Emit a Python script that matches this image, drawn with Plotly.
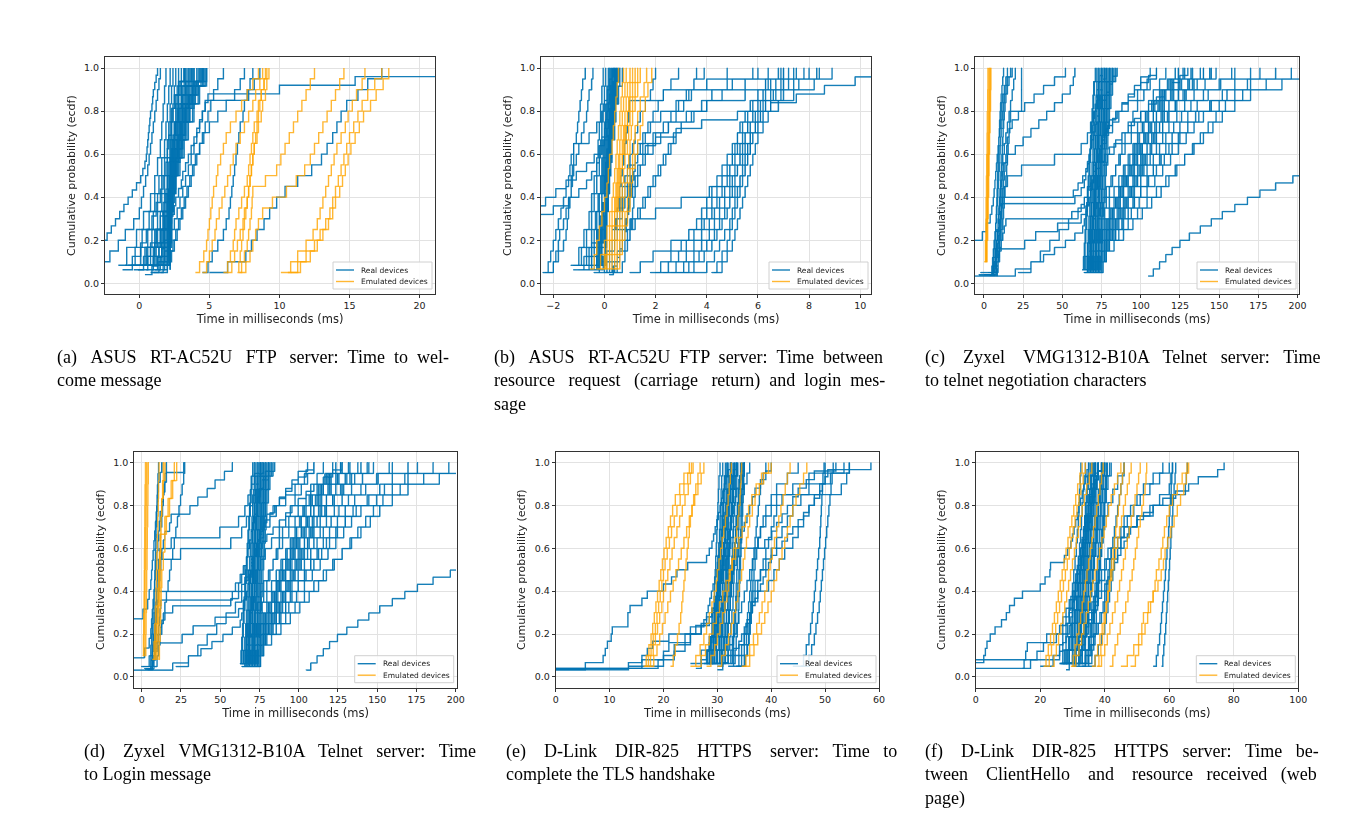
import pandas as pd
import plotly.express as px
import plotly.graph_objects as go

# ecdf de tiempos de respuesta, dispositivos reales vs emulados
# cada lista interna = muestras (ms) de un dispositivo

# ---- (a) ASUS RT-AC52U FTP: time to welcome message ----
A_REAL = [
    [-4.0, -3.8, -3.5, -3.3, -3.0, -2.8, -2.3, -2.0, -1.7, -1.4, -1.1, -0.8, -0.5, -0.2, 0.1,
     0.25, 0.4, 0.5, 0.55, 0.6, 0.65, 0.7, 0.75, 0.8, 0.9, 0.95, 1.0, 1.1, 1.2, 1.3],
    [-4.0, -3.0, -2.1, -1.5, -1.0, -0.4, 0.0, 0.15, 0.3, 0.45, 0.6, 0.7, 0.8, 0.9, 1.0,
     1.1, 1.2, 1.3, 1.4, 1.5],
    [-1.5, -0.9, -0.2, 0.3, 0.8, 1.1, 1.3, 1.5, 1.6, 1.7, 1.8, 1.9],
    [-1.0, -0.3, 0.2, 0.7, 1.1, 1.4, 1.6, 1.8, 1.9, 2.0, 2.1, 2.2],
    [-0.6, 0.1, 0.6, 1.0, 1.3, 1.6, 1.8, 2.0, 2.1, 2.2, 2.3, 2.4],
    [-0.3, 0.4, 0.9, 1.3, 1.6, 1.8, 2.0, 2.2, 2.3, 2.4, 2.5, 2.6],
    [0.0, 0.6, 1.1, 1.5, 1.8, 2.0, 2.2, 2.3, 2.5, 2.6, 2.7, 2.8],
    [0.2, 0.8, 1.3, 1.7, 1.9, 2.1, 2.2, 2.4, 2.5, 2.7, 2.8, 3.0],
    [0.4, 1.0, 1.5, 1.8, 2.0, 2.2, 2.3, 2.4, 2.6, 2.8, 3.0, 3.2],
    [0.6, 1.2, 1.6, 1.9, 2.1, 2.2, 2.3, 2.5, 2.7, 2.9, 3.1, 3.3],
    [0.8, 1.4, 1.8, 2.0, 2.2, 2.2, 2.4, 2.6, 2.8, 3.0, 3.2, 3.5],
    [1.0, 1.6, 1.9, 2.1, 2.2, 2.3, 2.5, 2.7, 2.9, 3.1, 3.4, 3.7],
    [1.2, 1.7, 2.0, 2.2, 2.2, 2.3, 2.6, 2.8, 3.0, 3.3, 3.6, 3.9],
    [1.4, 1.9, 2.1, 2.2, 2.3, 2.4, 2.6, 2.9, 3.2, 3.5, 3.8, 4.1],
    [1.6, 2.0, 2.2, 2.2, 2.3, 2.5, 2.7, 3.0, 3.3, 3.6, 4.0, 4.4],
    [1.8, 2.1, 2.2, 2.3, 2.4, 2.6, 2.8, 3.1, 3.4, 3.8, 4.2, 4.7],
    [2.0, 2.2, 2.2, 2.3, 2.4, 2.6, 2.9, 3.2, 3.5, 3.9, 4.3, 4.8],
    [2.1, 2.2, 2.2, 2.2, 2.3, 2.4, 2.6, 2.8, 3.0, 3.2, 3.5, 3.9],
    [2.2, 2.2, 2.2, 2.2, 2.3, 2.4, 2.5, 2.7, 2.9, 3.1, 3.3, 3.6],
    [2.2, 2.2, 2.3, 2.3, 2.4, 2.5, 2.6, 2.8, 3.0, 3.3, 3.7, 4.2],
    [-0.8, 0.5, 1.2, 1.7, 2.0, 2.2, 2.4, 2.7, 3.0, 3.3, 3.8, 4.5],
    [0.3, 1.1, 1.7, 2.1, 2.2, 2.3, 2.5, 2.8, 3.1, 3.4, 3.9, 4.6],
    [-1.2, -0.5, 0.1, 0.5, 0.9, 1.2, 1.5, 1.7, 1.9, 2.0, 2.1, 2.2, 2.3, 2.5, 2.8, 3.2],
    [-0.4, 0.3, 0.8, 1.2, 1.5, 1.7, 1.9, 2.0, 2.1, 2.2, 2.2, 2.3, 2.4, 2.6, 2.9, 3.4],
    [0.5, 1.0, 1.4, 1.7, 1.9, 2.0, 2.1, 2.2, 2.2, 2.3, 2.4, 2.6, 2.8, 3.0, 3.3, 3.8],
    [1.1, 1.5, 1.8, 2.0, 2.1, 2.2, 2.2, 2.3, 2.4, 2.5, 2.7, 2.9, 3.1, 3.4, 3.8, 4.3],
    [1.7, 2.0, 2.1, 2.2, 2.2, 2.2, 2.3, 2.4, 2.5, 2.7, 2.9, 3.1, 3.3, 3.6, 4.0, 4.6],
    [2.2, 2.2, 2.2, 2.2, 2.2, 2.3, 2.3, 2.4, 2.5, 2.6, 2.8, 3.0, 3.2, 3.5, 3.9, 4.4],
    [2.2, 2.2, 2.2, 2.3, 2.3, 2.4, 2.5, 2.6, 2.7, 2.9, 3.1, 3.3, 3.6, 3.9, 4.2, 4.5],
    [-0.1, 0.6, 1.1, 1.5, 1.8, 2.0, 2.1, 2.2, 2.3, 2.4, 2.5, 2.7, 2.9, 3.1, 3.4, 3.7],
    [0.9, 1.3, 1.6, 1.8, 2.0, 2.1, 2.2, 2.2, 2.3, 2.4, 2.5, 2.6, 2.7, 2.8, 3.0, 3.2],
    [1.4, 1.8, 2.0, 2.1, 2.2, 2.2, 2.3, 2.4, 2.6, 2.8, 3.0, 3.2, 3.4, 3.7, 4.1, 4.8],
    [0.4, 0.9, 1.3, 1.6, 1.8, 2.0, 2.2, 2.3, 2.5, 2.6, 2.8, 3.0, 3.1, 3.3, 3.5, 3.7, 3.9,
     4.1, 4.3, 4.5, 4.7, 4.9, 10.0, 15.4, 30.0],
    [0.8, 1.4, 1.8, 2.1, 2.3, 2.5, 2.7, 2.9, 3.1, 3.3, 3.5, 3.7, 3.9, 4.1, 4.3, 4.5, 4.7,
     7.8, 8.2, 8.6],
    [1.0, 1.7, 2.1, 2.4, 2.6, 2.8, 3.0, 3.2, 3.4, 3.6, 3.8, 4.0, 4.3, 4.6, 5.0, 5.6, 6.2,
     6.8, 7.2, 7.5],
    [1.5, 2.0, 2.3, 2.5, 2.7, 2.9, 3.1, 3.3, 3.5, 3.7, 3.9, 4.1, 4.3, 4.5, 4.7, 4.9, 5.1,
     5.3, 5.6, 6.0],
    [4.5, 4.9, 5.2, 5.6, 6.0, 6.2, 6.4, 6.5, 6.6, 6.7, 6.8, 6.9, 7.0, 7.1, 7.2, 7.4, 7.5,
     7.7, 7.9, 8.1],
    [5.0, 6.3, 7.6, 8.0, 8.4, 8.9, 9.3, 9.8, 10.4, 11.3, 12.3, 13.0, 13.4, 13.8, 14.1, 14.4,
     14.8, 15.6, 16.3, 17.3],
]
A_EMU = [
    [4.0, 4.3, 4.6, 4.8, 4.9, 5.0, 5.1, 5.2, 5.3, 5.5, 5.6, 5.8, 6.0, 6.2, 6.5, 6.9, 7.3, 7.7, 8.1, 8.5],
    [4.5, 4.8, 5.0, 5.2, 5.4, 5.5, 5.7, 5.9, 6.1, 6.3, 6.5, 6.7, 6.9, 7.2, 7.5, 7.8, 8.1, 8.3, 8.6, 8.8],
    [6.0, 6.3, 6.5, 6.7, 6.8, 6.9, 7.1, 7.3, 7.5, 7.7, 7.8, 7.9, 8.0, 8.1, 8.2, 8.4, 8.5, 8.7, 8.9, 9.0],
    [6.3, 6.6, 6.8, 7.0, 7.2, 7.4, 7.5, 7.7, 7.8, 7.9, 8.0, 8.1, 8.2, 8.4, 8.5, 8.7, 8.8, 9.0, 9.1, 9.25],
    [7.0, 7.1, 7.2, 7.3, 7.4, 7.5, 7.6, 7.7, 7.8, 7.9, 8.0, 8.1, 8.2, 8.3, 8.4, 8.5, 8.6, 8.7, 8.9, 9.1],
    [7.1, 7.3, 7.5, 7.7, 7.8, 7.9, 8.0, 8.05, 8.1, 9.0, 9.8, 10.1, 10.4, 10.7, 11.0, 11.3, 11.6, 11.9, 12.2, 12.5],
    [7.2, 7.6, 7.9, 8.1, 8.3, 8.5, 8.8, 9.5, 10.5, 11.2, 11.8, 12.2, 12.5, 12.8, 13.1, 13.4, 13.7, 14.0, 14.3, 14.6],
    [10.1, 10.8, 11.3, 11.9, 12.4, 12.7, 12.9, 13.1, 13.3, 13.5, 13.7, 13.9, 14.1, 14.4, 14.7, 14.9, 15.2, 15.5, 15.9, 16.1],
    [10.8, 11.5, 12.2, 12.7, 13.1, 13.5, 13.8, 14.0, 14.3, 14.5, 14.7, 14.9, 15.1, 15.4, 15.7, 16.0, 16.5, 16.9, 17.4, 17.8],
    [10.6, 11.3, 11.9, 12.5, 12.9, 13.3, 13.6, 13.8, 14.0, 14.2, 14.4, 14.6, 14.8, 15.0, 15.3, 15.6, 15.9, 16.3, 16.8, 17.3],
]

# ---- (b) ASUS RT-AC52U FTP: resource request -> login message ----
B_REAL = [
    [-2.4, -2.2, -2.1, -2.0, -1.9, -1.8, -1.7, -1.6, -1.5, -1.4, -1.35, -1.3, -1.2, -1.1, -1.05, -1.0, -0.95, -0.9, -0.85, -0.75],
    [-2.2, -2.0, -1.9, -1.8, -1.75, -1.6, -1.5, -1.4, -1.3, -1.25, -1.2, -1.1, -1.0, -0.9, -0.8, -0.7, -0.65, -0.6, -0.5, -0.45],
    [-4.0, -3.8, -3.6, -3.4, -3.2, -3.0, -2.9, -2.8, -2.6, -2.3, -1.9, -1.5, -1.1, -0.7, -0.4, -0.2, -0.1, 0.0, 0.05, 0.1,
     0.15, 0.2, 0.25, 0.3, 0.35],
    [-4.0, -3.8, -3.6, -3.4, -3.2, -3.0, -2.8, -2.6, -2.0, -1.4, -1.0, -0.7, -0.5, -0.3, -0.2, -0.1, 0.0, 0.1, 0.15, 0.2,
     0.3, 0.4, 0.45, 0.5, 0.55],
    [-2.3, -2.0, -1.8, -1.6, -1.5, -1.45, -1.4, -1.35, -1.3, -1.3, -1.25, -1.2, -1.2, -0.6, -0.3, -0.1, 0.0, 0.1, 0.2, 0.3],
    [-1.3, -1.0, -0.8, -0.6, -0.5, -0.4, -0.3, -0.25, -0.2, -0.15, -0.1, -0.05],
    [-1.2, -0.9, -0.7, -0.5, -0.4, -0.3, -0.2, -0.15, -0.1, -0.05, 0.0, 0.05],
    [-1.0, -0.7, -0.5, -0.35, -0.25, -0.15, -0.1, -0.05, 0.0, 0.05, 0.1, 0.15],
    [-0.9, -0.6, -0.4, -0.3, -0.2, -0.1, -0.05, 0.0, 0.05, 0.1, 0.15, 0.2],
    [-0.8, -0.5, -0.3, -0.2, -0.1, 0.0, 0.05, 0.1, 0.15, 0.2, 0.25, 0.3],
    [-0.7, -0.4, -0.2, -0.1, 0.0, 0.05, 0.1, 0.15, 0.2, 0.25, 0.3, 0.35],
    [-0.6, -0.3, -0.15, -0.05, 0.0, 0.1, 0.15, 0.2, 0.25, 0.3, 0.35, 0.4],
    [-0.5, -0.2, -0.1, 0.0, 0.05, 0.1, 0.2, 0.25, 0.3, 0.35, 0.4, 0.45],
    [-0.4, -0.15, 0.0, 0.05, 0.1, 0.15, 0.2, 0.25, 0.3, 0.35, 0.45, 0.5],
    [-0.3, -0.1, 0.0, 0.1, 0.15, 0.2, 0.25, 0.3, 0.35, 0.4, 0.5, 0.6],
    [-0.2, 0.0, 0.05, 0.1, 0.15, 0.2, 0.25, 0.3, 0.4, 0.45, 0.55, 0.7],
    [-0.1, 0.0, 0.05, 0.1, 0.15, 0.2, 0.2, 0.25, 0.3, 0.35, 0.4, 0.45],
    [-1.1, -0.6, -0.3, -0.2, -0.1, -0.05, 0.0, 0.05, 0.1, 0.15, 0.2, 0.25],
    [0.0, 0.05, 0.1, 0.1, 0.15, 0.2, 0.2, 0.25, 0.3, 0.3, 0.35, 0.4],
    [-0.8, -0.2, 0.0, 0.1, 0.1, 0.15, 0.2, 0.2, 0.25, 0.3, 0.35, 0.4],
    [-0.5, -0.1, 0.05, 0.1, 0.15, 0.2, 0.25, 0.25, 0.3, 0.35, 0.4, 0.5],
    [-1.2, -0.8, -0.5, -0.3, -0.2, -0.1, 0.0, 0.05, 0.1, 0.15, 0.2, 0.25, 0.3, 0.35, 0.4, 0.5],
    [-0.9, -0.6, -0.4, -0.25, -0.15, -0.05, 0.0, 0.05, 0.1, 0.1, 0.15, 0.2, 0.25, 0.3, 0.35, 0.45],
    [-0.6, -0.4, -0.25, -0.15, -0.1, -0.05, 0.0, 0.0, 0.05, 0.1, 0.15, 0.2, 0.2, 0.25, 0.3, 0.4],
    [-0.3, -0.2, -0.1, -0.05, 0.0, 0.05, 0.1, 0.1, 0.15, 0.2, 0.2, 0.25, 0.3, 0.35, 0.4, 0.55],
    [-1.0, -0.5, -0.2, -0.1, 0.0, 0.05, 0.1, 0.15, 0.2, 0.2, 0.25, 0.3, 0.3, 0.35, 0.4, 0.45],
    [-0.7, -0.3, -0.1, 0.0, 0.05, 0.1, 0.15, 0.2, 0.25, 0.3, 0.3, 0.35, 0.4, 0.45, 0.5, 0.6],
    [-0.15, -0.05, 0.0, 0.05, 0.1, 0.1, 0.15, 0.15, 0.2, 0.2, 0.25, 0.25, 0.3, 0.3, 0.35, 0.4],
    [-0.45, -0.25, -0.1, 0.0, 0.05, 0.1, 0.1, 0.15, 0.2, 0.25, 0.25, 0.3, 0.35, 0.4, 0.45, 0.5],
    [-0.2, 0.0, 0.1, 0.2, 0.3, 0.4, 0.5, 0.6, 0.7, 0.8, 0.9, 1.0, 1.1, 1.2, 1.3, 1.4, 1.6, 1.8, 1.9, 2.0],
    [0.0, 0.2, 0.3, 0.4, 0.5, 0.6, 0.7, 0.8, 0.9, 1.0, 1.1, 1.2, 1.3, 1.5, 1.7, 1.9, 2.1, 2.3, 2.6, 2.9],
    [0.1, 0.3, 0.5, 0.6, 0.7, 0.8, 0.9, 1.0, 1.1, 1.2, 1.3, 1.5, 1.7, 2.0, 2.3, 2.6, 2.9, 3.2, 3.5, 3.9],
    [0.2, 0.35, 0.5, 0.6, 0.7, 0.8, 0.85, 0.9, 0.95, 1.0, 1.05, 1.1, 1.15, 1.2, 1.3, 1.6, 2.0, 2.8, 3.8, 5.2,
     6.5, 7.5, 8.6, 9.8, 11.5],
    [0.0, 0.1, 0.2, 0.3, 0.4, 0.45, 0.5, 0.55, 0.6, 0.65, 0.7, 0.75, 0.8, 0.85, 0.9, 0.95, 0.98, 2.3, 4.8, 7.0],
    [0.3, 0.5, 0.6, 0.7, 0.8, 0.85, 0.9, 0.95, 1.0, 1.05, 1.1, 1.2, 1.5, 1.9, 2.5, 3.2, 4.0, 4.6, 5.5, 6.0],
    [0.5, 0.7, 0.8, 0.9, 1.0, 1.05, 1.1, 1.15, 1.2, 1.3, 1.4, 1.6, 1.9, 2.2, 2.5, 2.8, 3.1, 3.3, 3.5, 3.6],
    [0.0, 0.1, 0.2, 0.3, 0.4, 0.5, 0.6, 0.7, 0.8, 0.9, 1.0, 1.2, 1.4, 1.6, 1.8, 2.2, 2.8, 3.4, 4.0, 4.8],
    [0.2, 0.4, 0.6, 0.8, 1.0, 1.2, 1.4, 1.6, 1.8, 2.0, 2.2, 2.4, 2.6, 2.8, 3.0, 3.5, 4.0, 5.5, 7.0, 8.4],
    [0.1, 0.3, 0.5, 0.7, 0.9, 1.1, 1.3, 1.5, 1.7, 1.9, 2.1, 2.3, 2.5, 2.7, 3.0, 3.4, 3.8, 4.2, 5.0, 5.8],
    [-0.4, -0.2, 0.0, 0.2, 0.5, 1.0, 2.0, 3.0, 4.1, 4.6, 4.9, 5.1, 5.3, 5.5, 5.7, 5.9, 6.2, 6.5, 6.9, 7.4],
    [1.0, 1.4, 1.9, 2.6, 3.3, 3.9, 4.2, 4.4, 4.6, 4.8, 4.9, 5.0, 5.1, 5.2, 5.3, 5.5, 5.7, 6.0, 6.4, 7.0],
    [1.8, 2.2, 2.6, 3.0, 3.3, 3.6, 3.8, 4.0, 4.2, 4.4, 4.6, 4.8, 5.0, 5.2, 5.4, 5.6, 5.8, 6.0, 6.3, 6.8],
    [2.0, 2.5, 2.9, 3.2, 3.5, 3.8, 4.0, 4.2, 4.4, 4.6, 4.8, 5.0, 5.2, 5.4, 5.6, 5.8, 6.0, 6.3, 6.7, 7.2],
    [2.3, 2.8, 3.2, 3.5, 3.8, 4.1, 4.3, 4.5, 4.7, 4.9, 5.1, 5.3, 5.5, 5.7, 5.9, 6.1, 6.3, 6.7, 7.2, 7.8],
    [2.6, 3.1, 3.5, 3.8, 4.1, 4.3, 4.5, 4.7, 4.9, 5.0, 5.2, 5.4, 5.6, 5.8, 6.0, 6.2, 6.5, 6.9, 7.4, 8.0],
    [3.0, 3.5, 3.9, 4.2, 4.4, 4.6, 4.8, 4.9, 5.0, 5.1, 5.2, 5.3, 5.4, 5.5, 5.6, 5.8, 6.0, 6.2, 6.5, 6.9],
    [3.5, 4.0, 4.3, 4.5, 4.7, 4.9, 5.0, 5.1, 5.2, 5.3, 5.4, 5.5, 5.6, 5.7, 5.9, 6.1, 6.3, 6.6, 7.0, 7.5],
    [4.2, 4.4, 4.6, 4.8, 4.9, 5.0, 5.1, 5.2, 5.3, 5.4, 5.5, 5.6, 5.7, 5.8, 6.0, 6.2, 6.5, 7.0, 7.6, 8.3],
    [4.3, 4.6, 4.8, 5.0, 5.1, 5.2, 5.3, 5.4, 5.5, 5.6, 5.7, 5.8, 5.9, 6.0, 6.2, 6.4, 6.8, 7.4, 8.2, 8.9],
    [2.8, 3.3, 3.7, 4.0, 4.3, 4.5, 4.7, 4.9, 5.1, 5.3, 5.5, 5.6, 5.7, 5.8, 5.9, 6.0, 6.1, 6.2, 6.3, 6.4],
]
B_EMU = [
    [-0.55, -0.4, -0.3, -0.2, -0.1, 0.0, 0.1, 0.15, 0.2, 0.3, 0.35, 0.4, 0.45, 0.5, 0.55],
    [-0.3, -0.15, 0.0, 0.1, 0.2, 0.3, 0.35, 0.4, 0.45, 0.5, 0.55, 0.6, 0.65, 0.7, 0.75],
    [-0.2, 0.0, 0.1, 0.2, 0.3, 0.4, 0.45, 0.5, 0.55, 0.6, 0.65, 0.7, 0.75, 0.8, 0.85],
    [0.0, 0.1, 0.2, 0.3, 0.4, 0.45, 0.5, 0.55, 0.6, 0.7, 0.75, 0.8, 0.85, 0.9, 1.0],
    [0.1, 0.2, 0.3, 0.4, 0.5, 0.55, 0.6, 0.65, 0.7, 0.8, 0.85, 0.9, 1.0, 1.1, 1.2],
    [0.2, 0.3, 0.4, 0.5, 0.6, 0.65, 0.7, 0.75, 0.8, 0.9, 0.95, 1.0, 1.1, 1.2, 1.3],
    [0.3, 0.4, 0.5, 0.6, 0.7, 0.75, 0.8, 0.9, 0.95, 1.0, 1.05, 1.1, 1.2, 1.3, 1.4],
    [0.4, 0.5, 0.6, 0.7, 0.8, 0.9, 0.95, 1.0, 1.1, 1.15, 1.2, 1.3, 1.4, 1.55, 1.65],
    [0.45, 0.6, 0.7, 0.8, 0.9, 1.0, 1.05, 1.1, 1.2, 1.3, 1.4, 1.5, 1.6, 1.7, 1.85],
    [-0.1, 0.05, 0.2, 0.3, 0.4, 0.5, 0.55, 0.6, 0.7, 0.75, 0.8, 0.9, 0.95, 1.0, 1.1],
]

# ---- (c)/(d) Zyxel VMG1312-B10A Telnet: curves that look the same in both panels ----
ZYXEL_BAND = [
    [63, 64, 64.5, 65, 65.5, 66, 66.5, 67, 67.5, 68, 68.5, 69, 69.5, 70, 70.5, 71],
    [64, 65, 66, 66.5, 67, 67.5, 68, 68.5, 69, 69.5, 70, 70.5, 71, 71.5, 72, 73],
    [65, 66, 67, 67.5, 68, 68.5, 69, 69.5, 70, 70.5, 71, 71.5, 72, 72.5, 73, 74],
    [66, 67, 68, 68.5, 69, 69.5, 70, 70.5, 71, 71.5, 72, 72.5, 73, 73.5, 74, 75],
    [67, 68, 68.5, 69, 69.5, 70, 70.5, 71, 71.5, 72, 72.5, 73, 73.5, 74, 75, 76],
    [68, 68.5, 69, 69.5, 70, 70.5, 71, 71.5, 72, 72.5, 73, 73.5, 74, 75, 76, 78],
    [69, 69.5, 70, 70.5, 71, 71.5, 72, 72.5, 73, 73.5, 74, 74.5, 75, 76, 77, 80],
    [70, 70.5, 71, 71.5, 72, 72.5, 73, 73.5, 74, 74.5, 75, 75.5, 76, 77, 78, 81],
    [71, 71.5, 72, 72.5, 73, 73.5, 74, 74.5, 75, 75.5, 76, 76.5, 77, 78, 79, 80],
    [72, 72.5, 73, 73.5, 74, 74.5, 75, 75.5, 76, 76.5, 77, 77.5, 78, 79, 80, 82],
    [73, 73.5, 74, 74.5, 75, 75.5, 76, 76.5, 77, 77.5, 78, 78.5, 79, 80, 81, 83],
    [65, 67, 68, 69, 69.5, 70, 70.5, 71, 71.5, 72, 72.5, 73, 74, 75, 76, 77],
    [68, 69, 70, 70.5, 71, 71.5, 72, 72.5, 73, 73.5, 74, 74.5, 75, 75.5, 76, 77],
    [74, 74.5, 75, 75.5, 76, 76.5, 77, 77.5, 78, 78.5, 79, 79.5, 80, 81, 82, 84],
    [64, 66, 67, 68, 69, 70, 71, 72, 73, 74, 75, 76, 77, 78, 79, 80],
    [63, 63.5, 64, 64.5, 65, 65.5, 66, 66.5, 67, 67.5, 68, 68.5, 69, 69.5, 70, 72],
    [66, 66.5, 67, 67.5, 68, 68.5, 69, 69.5, 70, 70.5, 71, 71.5, 72, 73, 74, 76],
    [69, 69.5, 70, 70.5, 71, 71.5, 72, 72.5, 73, 73.5, 74, 74.5, 75, 75.5, 76, 77],
    [72, 72.5, 73, 73.5, 74, 74.5, 75, 75.5, 76, 76.5, 77, 78, 79, 80, 81, 82],
    [67, 67.5, 68, 69, 70, 71, 72, 73, 74, 75, 76, 77, 78, 79, 80, 81],
    [70, 71, 71.5, 72, 72.5, 73, 73.5, 74, 74.5, 75, 75.5, 76, 76.5, 77, 78, 79],
    [64, 65, 66, 67, 68, 68.5, 69, 69.5, 70, 70.5, 71, 71.5, 72, 72.5, 73, 75],
    [68, 68.5, 69, 69.5, 70, 70.5, 71, 71.5, 72, 72.5, 73, 73.5, 74, 74.5, 75, 76],
]
ZYXEL_FAN = [
    [64, 66, 68, 70, 72, 74, 76, 78, 80, 82, 84, 86, 88, 90, 92, 95, 98, 102, 106, 110],
    [65, 67, 69, 71, 73, 75, 77, 80, 83, 86, 89, 92, 95, 98, 101, 104, 108, 112, 117, 122],
    [66, 68, 70, 72, 74, 77, 80, 83, 86, 89, 92, 95, 98, 102, 106, 110, 115, 120, 126, 132],
    [67, 69, 71, 73, 76, 79, 82, 85, 88, 92, 96, 100, 104, 108, 112, 117, 122, 128, 134, 140],
    [68, 70, 72, 75, 78, 82, 86, 90, 94, 98, 102, 106, 110, 114, 118, 123, 128, 134, 141, 148],
    [69, 71, 73, 76, 80, 84, 88, 92, 96, 100, 104, 108, 112, 116, 121, 126, 132, 140, 150, 160],
    [70, 72, 74, 77, 80, 83, 86, 89, 92, 95, 98, 101, 104, 107, 110, 114, 118, 124, 130, 138],
    [71, 72, 73, 75, 77, 79, 81, 84, 87, 90, 93, 96, 99, 102, 105, 108, 112, 116, 121, 127],
    [72, 73, 74, 76, 78, 80, 83, 86, 89, 92, 95, 98, 101, 105, 109, 113, 118, 124, 131, 145],
    [66, 70, 74, 78, 82, 86, 90, 95, 100, 105, 110, 115, 120, 125, 130, 135, 145, 155, 170, 186],
    [70, 73, 76, 79, 82, 85, 88, 91, 94, 97, 100, 103, 106, 109, 112, 115, 118, 121, 124, 127],
    [73, 75, 77, 79, 81, 83, 85, 87, 89, 91, 93, 95, 97, 99, 101, 103, 105, 108, 112, 116],
    [68, 71, 75, 80, 86, 92, 98, 104, 110, 116, 122, 128, 134, 140, 146, 152, 160, 170, 180, 196],
    [64, 69, 74, 79, 84, 89, 94, 99, 104, 109, 114, 119, 124, 129, 134, 140, 150, 165, 190, 230],
    [75, 76, 77, 78, 79, 80, 82, 84, 86, 88, 90, 93, 96, 99, 102, 105, 109, 113, 118, 124],
    [67, 68, 69, 70, 71, 72, 74, 76, 78, 81, 84, 87, 90, 94, 98, 103, 108, 114, 120, 128],
    [65, 66, 67, 68, 69, 70, 71, 72, 73, 74, 76, 79, 83, 88, 94, 100, 107, 115, 125, 140],
    [71, 74, 78, 83, 89, 95, 101, 107, 113, 118, 123, 128, 133, 138, 143, 148, 154, 160, 168, 176],
    [68, 70, 72, 74, 76, 79, 82, 85, 88, 91, 94, 97, 100, 103, 106, 110, 114, 119, 125, 133],
    [70, 72, 75, 78, 81, 84, 87, 90, 93, 96, 99, 102, 106, 110, 114, 118, 123, 129, 136, 144],
    [72, 74, 77, 80, 84, 88, 92, 96, 100, 104, 108, 112, 116, 120, 125, 130, 136, 143, 151, 158],
    [66, 68, 70, 72, 75, 78, 81, 84, 87, 90, 93, 96, 99, 102, 105, 108, 111, 115, 119, 124],
    [74, 76, 78, 80, 83, 86, 89, 92, 95, 98, 101, 104, 107, 110, 114, 118, 122, 127, 133, 140],
    [69, 72, 76, 80, 84, 88, 92, 96, 100, 104, 108, 113, 118, 124, 130, 137, 144, 152, 160, 170],
    [71, 73, 75, 77, 79, 81, 83, 86, 89, 92, 95, 98, 101, 104, 107, 110, 113, 116, 120, 124],
]
ZYXEL_LOW = [
    [-10, 20, 30, 38, 45, 52, 58, 63, 64, 65, 66, 67, 68, 69, 70, 71, 72, 73, 74, 75, 77, 79,
     82, 85, 88, 92, 96, 100, 105, 110],
    [5, 8, 9, 10, 26, 33, 47, 62, 65, 67, 68, 69, 70, 71, 72, 74, 76, 78, 80, 84, 88, 92, 96, 100, 106],
    [22, 30, 36, 42, 48, 54, 60, 64, 66, 68, 70, 72, 75, 78, 82, 86, 92, 98, 104, 110],
    [105, 108, 112, 116, 120, 125, 131, 138, 145, 152, 160, 168, 176, 186, 197,
     205, 210, 215, 220, 225, 230, 235, 240, 250, 260, 270, 280, 290, 300, 320],
]
C_REAL = [
    [0.5, 5.5, 6.0, 6.5, 7.0, 7.3, 7.6, 7.8, 8.0, 8.2, 8.4, 8.6, 8.8, 9.0, 9.2, 9.4, 9.6, 9.8, 10.0,
     10.3, 10.6, 11.0, 11.5, 12.0, 12.5],
    [2.0, 6.0, 7.0, 7.5, 8.0, 8.5, 9.0, 9.3, 9.6, 9.9, 10.2, 10.5, 10.8, 11.1, 11.4, 11.7, 12.0, 12.3,
     12.6, 13.0, 13.5, 14.0, 15.0, 16.0, 17.0],
    [-3.0, 5.0, 5.5, 6.0, 6.5, 7.0, 7.5, 8.0, 8.3, 8.6, 8.9, 9.2, 9.5, 9.8, 10.1, 10.4, 10.7, 11.0,
     11.5, 12.0, 12.5, 13.0, 14.0, 15.0, 18.0],
    [8.0, 8.5, 9.0, 9.3, 9.6, 9.9, 10.2, 10.5, 10.8, 11.1, 11.4, 11.7, 57.0, 60.0, 63.0, 65.0, 66.0,
     67.0, 68.0, 68.5, 69.0, 69.5, 70.0, 70.5, 71.0, 71.5, 72.0, 73.0, 74.0, 76.0],
    [6.0, 7.0, 7.5, 8.0, 8.5, 9.0, 9.5, 10.0, 10.5, 11.0, 58.0, 62.0, 64.0, 65.0, 66.0, 67.0, 68.0,
     69.0, 70.0, 71.0, 72.0, 74.0, 76.0, 78.0, 80.0, 82.0, 85.0],
    [4.0, 7.0, 8.0, 9.0, 10.0, 11.0, 12.0, 13.0, 14.0, 56.0, 62.0, 64.0, 66.0, 68.0, 70.0, 72.0, 74.0,
     77.0, 80.0, 84.0, 88.0, 92.0, 96.0, 100.0, 105.0, 110.0, 115.0, 120.0, 125.0, 130.0],
    [3.0, 8.0, 9.0, 10.0, 10.5, 11.0, 11.5, 12.0, 13.0, 15.0, 24.0, 45.0, 62.0, 66.0, 68.0, 70.0,
     72.0, 74.0, 76.0, 78.0],
    [1.0, 6.0, 7.0, 7.5, 8.0, 8.5, 9.0, 9.5, 10.0, 10.5, 11.0, 11.5, 12.0, 12.5, 15.0, 20.0, 25.0,
     30.0, 35.0, 40.0, 45.0, 50.0, 55.0, 57.0, 58.0],
    [2.0, 7.0, 8.0, 8.5, 9.0, 9.5, 10.0, 10.5, 11.0, 11.5, 12.0, 12.5, 13.0, 13.5, 14.0, 14.5, 15.0,
     16.0, 18.0, 22.0, 26.0, 32.0, 38.0, 45.0, 52.0],
    [-2.0, 6.5, 7.5, 8.0, 8.5, 9.0, 9.5, 10.0, 10.5, 11.0, 11.5, 12.0, 13.0, 14.0, 15.0, 16.0, 17.0,
     18.0, 19.0, 20.0],
    [3.0, 9.0, 10.0, 11.0, 11.5, 12.0, 12.5, 13.0, 13.5, 14.0, 14.5, 15.0, 15.5, 16.0, 16.5, 17.0,
     24.0, 24.0, 24.0, 24.0],
    [-20.0, -18.0, -15.0, -12.0, -9.0, -1.0, 1.5, 4.0, 5.0, 6.0, 6.5, 7.0, 7.5, 8.0, 8.5, 9.0, 9.5,
     10.0, 10.5, 11.0, 11.5, 12.0, 13.0, 14.0, 15.0],
]
C_EMU = [
    [0.5, 1.0, 1.2, 1.4, 1.6, 1.8, 2.0, 2.2, 2.4, 2.6],
    [1.0, 1.4, 1.7, 2.0, 2.2, 2.4, 2.7, 3.0, 3.2, 3.5],
    [1.5, 2.0, 2.4, 2.7, 3.0, 3.3, 3.6, 3.9, 4.2, 4.5],
    [1.2, 1.6, 2.0, 2.3, 2.6, 2.9, 3.2, 3.5, 3.8, 4.0],
]
D_REAL = [
    [-20.0, -18.0, -15.0, -12.0, -9.0, -7.0, 1.0, 4.0, 5.0, 6.0, 6.5, 7.0, 7.5, 8.0, 8.5, 9.0, 9.5,
     10.0, 10.5, 11.0, 12.0, 13.0],
    [-10.0, -8.0, 2.0, 5.0, 6.0, 6.5, 7.0, 7.5, 8.0, 8.5, 9.0, 9.5, 10.0, 10.5, 11.0, 11.5, 12.0,
     13.0, 14.0, 15.0, 16.0, 27.0],
    [3.0, 6.0, 7.0, 7.5, 8.0, 8.5, 9.0, 9.5, 10.0, 10.5, 60.0, 63.0, 65.0, 67.0, 68.0, 69.0, 70.0,
     71.0, 72.0, 73.0, 74.0, 75.0, 77.0, 79.0, 82.0],
    [5.0, 7.0, 8.0, 9.0, 10.0, 11.0, 11.5, 12.0, 12.5, 58.0, 62.0, 64.0, 66.0, 67.0, 68.0, 69.0, 70.0,
     71.0, 72.0, 73.0, 74.0, 76.0, 78.0, 81.0, 85.0],
    [4.0, 7.0, 8.0, 9.0, 10.0, 11.0, 12.0, 13.0, 15.0, 20.0, 57.0, 62.0, 64.0, 66.0, 68.0, 70.0, 72.0,
     74.0, 77.0, 80.0, 84.0, 88.0, 92.0, 96.0, 100.0, 105.0, 110.0, 116.0, 122.0, 128.0],
    [4.0, 7.0, 8.0, 8.5, 9.0, 9.5, 10.0, 10.5, 11.0, 11.5, 12.0, 25.0, 57.0, 64.0, 67.0, 69.0, 71.0,
     73.0, 75.0, 78.0],
    [5.0, 7.5, 8.5, 9.0, 9.5, 10.0, 10.5, 11.0, 11.5, 12.0, 12.5, 13.0, 19.0, 50.0, 62.0, 66.0, 68.0,
     70.0, 72.0, 75.0],
    [2.0, 6.0, 7.0, 7.5, 8.0, 8.5, 9.0, 9.5, 10.0, 10.5, 11.0, 11.5, 12.0, 12.5, 13.0, 14.0, 15.0,
     18.0, 19.0, 31.0, 36.0, 42.0, 47.0, 53.0, 58.0],
    [1.0, 5.0, 6.0, 6.5, 7.0, 7.5, 8.0, 8.2, 8.4, 8.6, 8.8, 9.0, 9.2, 9.4, 9.6, 9.8, 10.0, 10.3, 10.6, 11.0],
    [0.0, 6.0, 7.0, 7.5, 8.0, 8.5, 9.0, 9.5, 10.0, 10.5, 11.0, 11.5, 12.0, 12.5, 13.0, 13.5, 14.0,
     14.5, 15.0, 16.0],
    [8.0, 10.0, 11.0, 12.0, 13.0, 14.0, 15.0, 16.0, 17.0, 18.0, 19.0, 20.0, 21.0, 22.0, 23.0, 24.0,
     25.0, 26.0, 27.0, 27.6],
]
D_EMU = [
    [1.0, 1.3, 1.5, 1.7, 1.9, 2.0, 2.1, 2.2, 2.4, 2.6],
    [1.5, 1.8, 2.0, 2.2, 2.4, 2.6, 2.8, 3.0, 3.2, 3.4],
    [2.5, 2.8, 3.0, 3.2, 3.4, 3.6, 3.8, 4.0, 4.2, 4.4],
    [7.0, 8.0, 8.5, 9.0, 9.3, 9.6, 9.9, 10.2, 10.5, 10.8, 11.0, 11.3],
    [9.0, 9.5, 10.0, 10.5, 11.0, 11.3, 11.6, 12.0, 12.5, 13.0, 14.0, 15.0],
    [10.0, 10.5, 11.0, 11.3, 11.6, 12.0, 12.2, 12.5, 15.0, 17.0, 19.0, 21.0],
    [11.0, 11.5, 12.0, 12.3, 12.6, 13.0, 14.0, 15.0, 16.0, 18.0, 20.0, 22.5],
    [8.0, 8.8, 9.5, 10.0, 10.5, 11.0, 11.5, 12.0, 12.5, 13.0, 13.5, 14.0],
]

# ---- (e) D-Link DIR-825 HTTPS: TLS handshake ----
E_REAL = [
    [-5.0, 5.5, 8.8, 9.2, 9.6, 10.3, 10.5, 13.4, 13.4, 13.8, 16.0, 17.0, 20.0, 21.5, 22.5, 24.5,
     28.0, 28.5, 29.0, 29.3, 29.6, 29.9, 30.2, 30.5, 30.8, 31.0, 31.3, 31.6, 32.0, 32.5],
    [-5.0, 13.5, 16.0, 17.0, 18.0, 21.0, 25.0, 27.5, 28.0, 28.3, 28.6, 28.9, 29.2, 29.5, 29.8, 30.0,
     30.2, 30.4, 30.6, 30.8, 31.0, 31.2, 31.4, 31.6, 31.8, 32.0, 32.3, 32.6, 33.0, 33.5],
    [-5.0, 16.0, 20.0, 21.0, 24.0, 27.0, 28.5, 29.0, 29.5, 30.0, 30.3, 30.6, 30.9, 31.2, 31.5, 31.8,
     32.1, 32.4, 32.7, 33.0, 33.3, 33.6, 34.0, 34.5, 35.0],
    [-5.0, 19.0, 22.0, 24.0, 25.0, 26.0, 28.0, 29.0, 30.0, 31.0, 31.5, 32.0, 32.5, 33.0, 33.5, 34.0,
     34.5, 35.0, 35.5, 36.0, 36.5, 37.0, 38.0, 39.0, 40.0],
    [13.5, 20.0, 22.0, 25.0, 27.0, 29.0, 29.5, 30.0, 30.5, 31.0, 31.5, 32.0, 32.5, 33.0, 33.5, 34.0,
     34.5, 35.0, 35.5, 36.0],
    [28.0, 28.5, 28.8, 29.0, 29.2, 29.4, 29.5, 29.6, 29.7, 29.8, 29.9, 30.0, 30.1, 30.2, 30.3, 30.5],
    [28.5, 29.0, 29.3, 29.5, 29.7, 29.9, 30.0, 30.1, 30.2, 30.3, 30.4, 30.5, 30.6, 30.7, 30.8, 31.0],
    [29.0, 29.5, 29.8, 30.0, 30.2, 30.4, 30.5, 30.6, 30.7, 30.8, 30.9, 31.0, 31.1, 31.2, 31.3, 31.5],
    [29.5, 30.0, 30.3, 30.5, 30.7, 30.9, 31.0, 31.1, 31.2, 31.3, 31.4, 31.5, 31.6, 31.7, 31.8, 32.0],
    [30.0, 30.5, 30.8, 31.0, 31.2, 31.4, 31.5, 31.6, 31.7, 31.8, 31.9, 32.0, 32.1, 32.2, 32.4, 32.6],
    [30.5, 31.0, 31.3, 31.5, 31.7, 31.9, 32.0, 32.1, 32.2, 32.3, 32.4, 32.5, 32.6, 32.8, 33.0, 33.2],
    [31.0, 31.5, 31.8, 32.0, 32.2, 32.4, 32.5, 32.6, 32.7, 32.8, 32.9, 33.0, 33.2, 33.4, 33.6, 33.8],
    [31.5, 32.0, 32.3, 32.5, 32.7, 32.9, 33.0, 33.1, 33.2, 33.3, 33.4, 33.5, 33.7, 33.9, 34.1, 34.3],
    [32.0, 32.5, 32.8, 33.0, 33.2, 33.4, 33.5, 33.6, 33.7, 33.8, 33.9, 34.0, 34.2, 34.4, 34.6, 34.8],
    [27.5, 28.2, 28.8, 29.2, 29.5, 29.8, 30.0, 30.2, 30.4, 30.6, 30.8, 31.0, 31.2, 31.4, 31.6, 31.8],
    [28.0, 28.8, 29.4, 29.8, 30.1, 30.4, 30.6, 30.8, 31.0, 31.2, 31.4, 31.6, 31.8, 32.0, 32.2, 32.5],
    [29.0, 29.8, 30.4, 30.8, 31.1, 31.4, 31.6, 31.8, 32.0, 32.2, 32.4, 32.6, 32.8, 33.0, 33.3, 33.6],
    [30.0, 30.8, 31.4, 31.8, 32.1, 32.4, 32.6, 32.8, 33.0, 33.2, 33.4, 33.6, 33.8, 34.0, 34.3, 34.6],
    [28.5, 29.0, 29.3, 29.6, 29.8, 30.0, 30.2, 30.4, 30.6, 30.8, 31.0, 31.3, 31.6, 31.9, 32.2, 32.6],
    [33.0, 33.3, 33.5, 33.7, 33.9, 34.0, 34.1, 34.2, 34.3, 34.4, 34.5, 34.6, 34.7, 34.8, 34.9, 35.0],
    [25.0, 27.0, 28.5, 29.3, 29.8, 30.2, 30.5, 30.8, 31.0, 31.2, 31.4, 31.6, 31.8, 32.0, 32.2, 32.4],
    [28.0, 28.6, 29.0, 29.3, 29.5, 29.7, 29.9, 30.0, 30.1, 30.3, 30.5, 30.7, 30.9, 31.1, 31.4, 31.8],
    [29.0, 29.4, 29.7, 30.0, 30.2, 30.4, 30.6, 30.8, 31.0, 31.2, 31.4, 31.6, 31.8, 32.0, 32.3, 32.7],
    [30.0, 30.4, 30.7, 31.0, 31.2, 31.4, 31.6, 31.8, 32.0, 32.2, 32.4, 32.6, 32.8, 33.0, 33.3, 33.7],
    [31.0, 31.4, 31.7, 32.0, 32.2, 32.4, 32.6, 32.8, 33.0, 33.2, 33.4, 33.6, 33.8, 34.0, 34.2, 34.5],
    [27.0, 28.0, 28.7, 29.2, 29.6, 30.0, 30.3, 30.6, 30.9, 31.2, 31.5, 31.8, 32.1, 32.4, 32.7, 33.0],
    [32.5, 32.8, 33.0, 33.2, 33.4, 33.6, 33.8, 34.0, 34.1, 34.2, 34.3, 34.4, 34.5, 34.6, 34.8, 35.0],
    [29.5, 30.0, 30.4, 30.7, 31.0, 31.2, 31.4, 31.6, 31.8, 32.0, 32.2, 32.4, 32.6, 32.8, 33.1, 33.5],
    [28.5, 29.2, 29.8, 30.2, 30.5, 30.8, 31.0, 31.2, 31.4, 31.6, 31.8, 32.0, 32.2, 32.5, 32.8, 33.2],
    [30.5, 30.8, 31.1, 31.4, 31.7, 32.0, 32.3, 32.6, 32.9, 33.2, 33.5, 33.8, 34.1, 34.4, 34.7, 35.0],
    [33.0, 34.0, 34.5, 35.0, 35.3, 35.6, 35.8, 36.0, 36.2, 36.4, 36.6, 36.8, 37.0, 37.2, 37.4, 37.6,
     37.8, 38.0, 38.5, 39.0],
    [33.5, 34.5, 35.0, 35.4, 35.7, 36.0, 36.2, 36.4, 36.6, 36.8, 37.0, 37.3, 37.6, 38.0, 38.5, 39.0,
     40.0, 41.0, 43.0, 45.0],
    [34.0, 35.0, 35.5, 35.8, 36.0, 36.2, 36.4, 36.6, 37.0, 38.0, 39.0, 40.0, 41.0, 42.0, 43.0, 44.0,
     45.5, 47.0, 50.0, 53.5],
    [34.5, 35.2, 35.6, 35.9, 36.1, 36.3, 36.5, 37.5, 39.5, 40.5, 41.5, 42.5, 44.0, 45.0, 46.0, 47.0,
     48.0, 49.0, 51.0, 54.5],
    [30.0, 31.0, 32.0, 33.0, 34.0, 34.5, 35.0, 35.5, 36.0, 36.5, 37.0, 37.5, 38.0, 38.5, 39.0, 39.5,
     40.0, 41.0, 42.0, 43.0, 44.0, 45.0, 46.0, 47.0, 48.0, 49.0, 49.5, 50.0, 50.5, 58.5],
    [26.0, 27.0, 28.0, 28.5, 29.0, 29.5, 30.0, 30.5, 31.0, 31.5, 32.0, 32.5, 33.0, 33.5, 33.9, 38.8,
     40.1, 41.0, 42.0, 43.0, 44.0, 45.0, 46.5, 48.0, 52.0],
    [30.0, 31.0, 32.0, 33.0, 33.5, 34.0, 34.5, 35.0, 35.5, 36.0, 36.5, 37.0, 37.5, 38.0, 39.0, 40.0,
     41.0, 53.0, 54.0, 54.5],
    [32.0, 33.0, 34.0, 35.0, 35.5, 36.0, 36.5, 37.0, 37.5, 38.0, 38.5, 39.0, 39.5, 40.0, 40.5, 41.0,
     42.0, 44.0, 47.0, 50.0],
    [44.0, 46.0, 46.5, 47.0, 47.3, 47.6, 47.8, 48.0, 48.2, 48.4, 48.6, 48.8, 49.0, 49.1, 49.2, 49.3,
     49.4, 49.5, 49.6, 49.8],
    [45.5, 47.0, 47.5, 48.0, 48.3, 48.6, 48.9, 49.1, 49.3, 49.5, 49.7, 49.9, 50.1, 50.3, 50.5, 50.7,
     50.9, 51.1, 51.3, 51.5],
]
E_EMU = [
    [16.3, 16.8, 17.3, 17.7, 18.0, 18.3, 18.6, 18.9, 19.2, 19.5, 19.8, 20.1, 20.5, 20.9, 21.3, 21.7, 22.2, 23.0, 23.8, 24.8],
    [16.6, 17.2, 17.7, 18.1, 18.5, 18.8, 19.1, 19.4, 19.7, 20.0, 20.3, 20.7, 21.1, 21.5, 22.0, 22.5, 23.1, 23.8, 24.5, 25.2],
    [17.0, 17.6, 18.1, 18.5, 18.9, 19.3, 19.7, 20.0, 20.4, 20.8, 21.2, 21.6, 22.0, 22.5, 23.0, 23.5, 24.0, 24.6, 25.0, 25.5],
    [17.5, 18.2, 18.8, 19.3, 19.8, 20.3, 20.8, 21.3, 21.8, 22.3, 22.8, 23.3, 23.8, 24.3, 24.8, 25.3, 25.8, 26.4, 27.0, 27.5],
    [21.3, 21.8, 22.2, 22.6, 22.9, 23.2, 23.4, 23.6, 23.8, 24.0, 24.2, 24.4, 24.6, 24.8, 25.0, 25.3, 25.6, 26.0, 26.4, 26.8],
    [25.0, 26.0, 26.8, 27.5, 28.0, 28.5, 29.0, 29.4, 29.8, 30.0, 30.3, 30.6, 30.9, 31.2, 31.5, 31.8, 32.0, 32.2, 32.4, 32.6],
    [28.0, 28.8, 29.5, 30.0, 30.5, 31.0, 31.4, 31.8, 32.1, 32.4, 32.7, 33.0, 33.3, 33.6, 33.8, 34.0, 34.2, 34.3, 34.4, 34.5],
    [30.0, 30.8, 31.5, 32.1, 32.6, 33.0, 33.4, 33.8, 34.1, 34.5, 34.8, 35.1, 35.4, 35.7, 36.0, 36.5, 37.0, 37.8, 38.6, 39.5],
    [34.5, 35.3, 36.0, 36.7, 37.3, 37.8, 38.3, 38.8, 39.2, 39.5, 39.8, 40.2, 40.6, 41.0, 41.4, 41.8, 42.2, 42.6, 43.0, 43.5],
    [35.0, 36.0, 36.8, 37.5, 38.2, 38.8, 39.4, 40.0, 40.5, 41.0, 41.5, 42.0, 42.5, 43.0, 43.5, 44.0, 44.6, 45.3, 46.0, 46.6],
    [26.0, 27.0, 27.8, 28.5, 29.2, 29.8, 30.4, 31.0, 31.6, 32.2, 32.8, 33.4, 34.0, 34.6, 35.2, 35.8, 36.4, 37.2, 38.2, 40.0],
]

# ---- (f) D-Link DIR-825 HTTPS: ClientHello -> resource received ----
F_REAL = [
    [-10.0, -8.0, 2.5, 3.0, 3.5, 4.5, 6.0, 8.0, 9.5, 10.5, 12.0, 14.5, 20.0, 21.5, 23.0, 23.2,
     27.5, 28.5, 29.5, 30.0, 30.5, 31.0, 31.5, 32.0, 32.5, 33.0, 33.5, 34.0, 34.5, 35.0],
    [-10.0, -8.0, 26.0, 27.0, 28.0, 29.0, 29.5, 30.0, 30.5, 31.0, 31.5, 32.0, 32.5, 33.0, 33.5, 34.0,
     34.5, 35.0, 35.5, 36.0, 36.5, 37.0, 37.5, 38.0, 39.0],
    [-10.0, 15.0, 15.5, 16.0, 25.0, 26.0, 27.0, 28.0, 29.0, 30.0, 30.5, 31.0, 31.5, 32.0, 32.5, 33.0,
     33.5, 34.0, 34.5, 35.0, 35.5, 36.0, 37.0, 38.0, 40.0],
    [14.5, 17.0, 19.0, 21.0, 22.0, 27.0, 28.0, 29.0, 30.0, 30.5, 31.0, 31.5, 32.0, 32.5, 33.0, 33.5,
     34.0, 34.5, 35.0, 35.5, 36.0, 36.5, 37.0, 38.0, 39.0],
    [20.0, 24.0, 26.0, 27.0, 28.0, 29.0, 30.0, 30.5, 31.0, 31.5, 32.0, 32.5, 33.0, 33.5, 34.0, 34.5,
     35.0, 36.0, 37.0, 38.0],
    [26.0, 27.0, 28.0, 28.5, 29.0, 29.5, 30.0, 30.4, 30.8, 31.2, 31.5, 31.8, 32.0, 32.2, 32.4, 32.6],
    [27.0, 28.0, 29.0, 29.5, 30.0, 30.5, 31.0, 31.4, 31.8, 32.2, 32.5, 32.8, 33.0, 33.3, 33.6, 34.0],
    [28.0, 29.0, 30.0, 30.5, 31.0, 31.5, 32.0, 32.4, 32.8, 33.2, 33.5, 33.8, 34.0, 34.3, 34.6, 35.0],
    [29.0, 30.0, 31.0, 31.5, 32.0, 32.5, 33.0, 33.4, 33.8, 34.2, 34.5, 34.8, 35.0, 35.3, 35.6, 36.0],
    [30.0, 31.0, 32.0, 32.5, 33.0, 33.5, 34.0, 34.4, 34.8, 35.2, 35.5, 35.8, 36.0, 36.3, 36.6, 37.0],
    [31.0, 32.0, 33.0, 33.5, 34.0, 34.5, 35.0, 35.4, 35.8, 36.2, 36.5, 36.8, 37.0, 37.3, 37.6, 38.0],
    [32.0, 33.0, 34.0, 34.5, 35.0, 35.5, 36.0, 36.4, 36.8, 37.2, 37.5, 37.8, 38.0, 38.4, 38.8, 39.2],
    [33.0, 34.0, 35.0, 35.5, 36.0, 36.5, 37.0, 37.4, 37.8, 38.0, 38.3, 38.6, 38.9, 39.2, 39.6, 40.0],
    [34.0, 35.0, 35.8, 36.4, 36.8, 37.2, 37.6, 38.0, 38.3, 38.6, 38.9, 39.2, 39.5, 39.8, 40.2, 40.6],
    [35.0, 36.0, 36.6, 37.0, 37.4, 37.8, 38.1, 38.4, 38.7, 39.0, 39.3, 39.6, 39.9, 40.2, 40.5, 40.8],
    [27.5, 29.0, 30.5, 31.5, 32.2, 32.8, 33.3, 33.8, 34.2, 34.6, 35.0, 35.4, 35.8, 36.2, 36.6, 37.0],
    [29.5, 31.0, 32.0, 32.8, 33.5, 34.0, 34.5, 35.0, 35.5, 36.0, 36.5, 37.0, 37.5, 38.0, 38.5, 39.0],
    [31.5, 32.5, 33.3, 34.0, 34.6, 35.2, 35.7, 36.2, 36.7, 37.2, 37.7, 38.2, 38.7, 39.2, 40.5, 42.0],
    [33.0, 34.0, 35.0, 35.8, 36.5, 37.0, 37.5, 38.0, 38.5, 39.0, 39.5, 40.0, 41.0, 42.5, 44.0, 46.0],
    [30.0, 30.8, 31.5, 32.0, 32.5, 33.0, 33.4, 33.8, 34.2, 34.6, 35.0, 35.4, 35.8, 36.2, 36.6, 37.0],
    [26.5, 28.0, 29.2, 30.0, 30.6, 31.2, 31.7, 32.2, 32.6, 33.0, 33.4, 33.8, 34.2, 34.6, 35.0, 35.5],
    [28.0, 29.0, 30.0, 30.8, 31.5, 32.0, 32.5, 33.0, 33.4, 33.8, 34.2, 34.6, 35.0, 35.4, 35.8, 36.3],
    [30.0, 31.0, 31.8, 32.5, 33.0, 33.5, 34.0, 34.4, 34.8, 35.2, 35.6, 36.0, 36.4, 36.8, 37.3, 37.8],
    [32.0, 33.0, 33.7, 34.3, 34.8, 35.3, 35.7, 36.1, 36.5, 36.9, 37.3, 37.7, 38.1, 38.5, 39.0, 39.5],
    [27.0, 28.5, 29.8, 30.7, 31.4, 32.0, 32.5, 33.0, 33.5, 34.0, 34.5, 35.0, 35.5, 36.0, 36.6, 37.2],
    [31.0, 32.0, 32.8, 33.5, 34.0, 34.5, 35.0, 35.5, 36.0, 36.5, 37.0, 37.5, 38.0, 38.6, 39.2, 40.0],
    [29.0, 30.5, 31.5, 32.3, 33.0, 33.6, 34.1, 34.6, 35.0, 35.4, 35.8, 36.2, 36.6, 37.0, 37.5, 38.0],
    [33.5, 34.5, 35.3, 36.0, 36.6, 37.1, 37.6, 38.0, 38.4, 38.8, 39.2, 39.6, 40.0, 40.5, 41.0, 41.5],
    [26.0, 27.5, 28.8, 29.8, 30.6, 31.3, 31.9, 32.4, 32.9, 33.4, 33.9, 34.4, 34.9, 35.4, 36.0, 36.6],
    [55.0, 56.0, 56.5, 57.0, 57.3, 57.6, 57.9, 58.2, 58.5, 58.8, 59.0, 59.3, 59.5, 59.8, 60.0, 60.2,
     60.4, 60.6, 60.8, 61.0],
    [57.6, 58.0, 58.3, 58.6, 58.9, 59.1, 59.3, 59.5, 59.7, 59.9, 60.1, 60.3, 60.5, 60.7, 60.9, 61.1,
     61.3, 61.5, 61.8, 62.0],
    [30.0, 32.0, 33.0, 34.0, 35.0, 36.0, 37.0, 38.0, 39.0, 40.0, 40.5, 42.0, 45.0, 47.5, 50.0, 54.0,
     57.0, 60.0, 60.5, 61.0],
    [28.0, 29.0, 30.0, 31.0, 32.0, 33.0, 34.0, 35.0, 36.0, 37.0, 38.0, 39.0, 40.0, 41.0, 42.0, 43.0,
     44.0, 45.0, 46.0, 47.0, 48.0, 50.0, 52.0, 55.0, 58.0, 62.0, 66.0, 69.0, 75.0, 77.0],
    [30.0, 31.0, 32.0, 33.0, 34.0, 35.0, 36.0, 37.0, 38.0, 39.0, 40.0, 41.0, 43.0, 46.0, 50.0, 55.0,
     60.7, 65.0, 65.3, 65.6],
    [33.0, 35.0, 36.0, 37.0, 38.0, 39.0, 40.0, 40.5, 41.0, 41.5, 42.0, 43.0, 44.0, 45.0, 46.0, 48.0,
     50.0, 52.0, 55.0, 58.0],
    [35.0, 37.0, 38.0, 39.0, 40.0, 40.5, 41.0, 41.5, 42.0, 42.5, 43.0, 44.0, 45.0, 46.0, 47.0, 49.0,
     51.0, 54.0, 57.0, 60.0],
    [32.0, 34.0, 35.5, 36.5, 37.5, 38.5, 39.5, 40.0, 40.5, 41.0, 41.5, 42.0, 42.5, 43.0, 43.5, 44.0,
     44.5, 45.0, 45.5, 46.0],
]
F_EMU = [
    [21.0, 21.8, 22.5, 23.2, 23.8, 24.4, 25.0, 25.6, 26.2, 26.8, 27.4, 28.0, 28.6, 29.2, 29.8, 30.4, 31.0, 31.6, 32.3, 33.0],
    [22.0, 22.8, 23.5, 24.2, 24.8, 25.4, 26.0, 26.6, 27.2, 27.8, 28.4, 29.0, 29.6, 30.2, 30.8, 31.4, 32.0, 32.6, 33.3, 34.0],
    [23.5, 24.3, 25.0, 25.7, 26.4, 27.0, 27.6, 28.2, 28.8, 29.4, 30.0, 30.6, 31.2, 31.8, 32.4, 33.0, 33.7, 34.4, 35.2, 36.0],
    [29.5, 30.2, 30.8, 31.4, 32.0, 32.5, 33.0, 33.5, 34.0, 34.5, 35.0, 35.5, 36.0, 36.5, 37.0, 37.5, 38.0, 38.5, 39.0, 39.5],
    [30.0, 31.0, 32.0, 32.8, 33.5, 34.2, 34.9, 35.6, 36.3, 37.0, 37.7, 38.4, 39.1, 39.8, 40.5, 41.2, 42.0, 43.0, 44.0, 45.0],
    [37.5, 38.2, 38.8, 39.3, 39.8, 40.2, 40.6, 41.0, 41.4, 41.8, 42.2, 42.6, 43.0, 43.4, 43.8, 44.2, 44.6, 45.0, 45.5, 46.0],
    [38.0, 39.0, 40.0, 40.8, 41.6, 42.4, 43.2, 44.0, 44.6, 45.2, 45.8, 46.4, 47.0, 47.6, 48.2, 48.8, 49.4, 50.0, 50.5, 51.0],
    [41.5, 42.5, 43.2, 44.0, 44.8, 45.6, 46.5, 47.2, 47.8, 48.5, 49.0, 49.5, 50.0, 50.5, 51.0, 51.5, 52.0, 52.5, 52.8, 53.0],
    [48.0, 49.5, 50.5, 51.5, 52.5, 53.3, 54.2, 55.0, 55.6, 56.0, 56.8, 57.5, 58.0, 58.5, 59.2, 60.0, 61.0, 62.5, 64.0, 65.5],
    [45.0, 47.0, 49.0, 50.5, 51.5, 52.0, 53.5, 55.0, 56.5, 57.5, 58.2, 58.7, 59.5, 60.5, 61.5, 62.5, 63.5, 64.5, 65.3, 66.0],
    [36.0, 37.0, 37.8, 38.5, 39.2, 39.8, 40.4, 41.0, 41.6, 42.2, 42.8, 43.4, 44.0, 44.6, 45.2, 45.8, 46.4, 47.0, 47.6, 48.2],
]

Y_TICKS = [0.0, 0.2, 0.4, 0.6, 0.8, 1.0]
A_TICKS = [0, 5, 10, 15, 20]
B_TICKS = [-2, 0, 2, 4, 6, 8, 10]
CD_TICKS = [0, 25, 50, 75, 100, 125, 150, 175, 200]
E_TICKS = [0, 10, 20, 30, 40, 50, 60]
F_TICKS = [0, 20, 40, 60, 80, 100]

# pies de figura, una lista por subfigura (una cadena por renglon)
CAPTIONS = [
    ["(a) ASUS RT-AC52U FTP server: Time to wel-", "come message"],
    ["(b) ASUS RT-AC52U FTP server: Time between",
     "resource request (carriage return) and login mes-", "sage"],
    ["(c) Zyxel VMG1312-B10A Telnet server: Time", "to telnet negotiation characters"],
    ["(d) Zyxel VMG1312-B10A Telnet server: Time", "to Login message"],
    ["(e) D-Link DIR-825 HTTPS server: Time to", "complete the TLS handshake"],
    ["(f) D-Link DIR-825 HTTPS server: Time be-",
     "tween ClientHello and resource received (web", "page)"],
]
# espacios extra por renglon para imitar el texto justificado
CAPTION_PAD = [[11, 0], [8, 9, 0], [12, 0], [11, 0], [16, 0], [15, 13, 0]]
LEGEND_LABELS = ["Real devices", "Emulated devices"]

BLUE = "rgba(1,115,178,0.92)"
ORANGE = "rgba(255,165,0,0.8)"
FONT = "DejaVu Sans"

# la pagina deja 8px de margen, trabajamos en pixeles de la ventana
OFF = 8
W, H = 1355, 807


def fx(px_):
    return (px_ - OFF) / W


def fy(py_):
    return 1 - (py_ - OFF) / H


def justify(line, extra):
    words = line.split(" ")
    gaps = len(words) - 1
    if extra == 0 or gaps == 0:
        return line
    out = words[0]
    for g in range(gaps):
        n = extra // gaps + (1 if g < extra % gaps else 0)
        out += " " + "\u00a0" * n + words[g + 1]
    return out


# (izq, arriba, der, abajo) del area de cada grafico, en pixeles
PANELS = [
    dict(real=A_REAL, emu=A_EMU, xr=[-2.45, 21.1], ticks=A_TICKS,
         box=(105, 57.3, 435, 294), cap=(55, 345)),
    dict(real=B_REAL, emu=B_EMU, xr=[-2.48, 10.42], ticks=B_TICKS,
         box=(541, 57.3, 871, 294), cap=(492, 345)),
    dict(real=C_REAL + ZYXEL_LOW + ZYXEL_BAND + ZYXEL_FAN, emu=C_EMU, xr=[-5.7, 200.9], ticks=CD_TICKS,
         box=(975, 57.3, 1299, 294), cap=(923, 345)),
    dict(real=D_REAL + ZYXEL_LOW + ZYXEL_BAND + ZYXEL_FAN, emu=D_EMU, xr=[-4.7, 200.6], ticks=CD_TICKS,
         box=(134.3, 451.7, 456.7, 687.7), cap=(82, 739)),
    dict(real=E_REAL, emu=E_EMU, xr=[0, 60], ticks=E_TICKS,
         box=(555.7, 451.7, 879, 687.7), cap=(504, 739)),
    dict(real=F_REAL, emu=F_EMU, xr=[0, 100], ticks=F_TICKS,
         box=(975.7, 451.7, 1298.3, 687.7), cap=(923, 739)),
]

fig = go.Figure()
layout = {}
annotations = []
shapes = []

for k, p in enumerate(PANELS, start=1):
    s = "" if k == 1 else str(k)
    rows = []
    for i, vals in enumerate(p["real"]):
        rows += [(v, "r%02d" % i) for v in vals]
    for i, vals in enumerate(p["emu"]):
        rows += [(v, "e%02d" % i) for v in vals]
    df = pd.DataFrame(rows, columns=["t", "curve"])
    sub = px.ecdf(df, x="t", color="curve", ecdfmode="standard")
    for tr in sub.data:
        col = ORANGE if tr.name.startswith("e") else BLUE
        tr.update(xaxis="x" + s, yaxis="y" + s, line=dict(color=col, width=1.4),
                  line_shape="hv", showlegend=False, hoverinfo="skip")
        fig.add_trace(tr)

    l, t, r, b = p["box"]
    axis_common = dict(showline=True, mirror=True, linecolor="#333333", linewidth=1,
                       ticks="outside", ticklen=3, tickcolor="#333333",
                       showgrid=True, gridcolor="#e2e2e2", gridwidth=0.8,
                       zeroline=False, automargin=False,
                       tickfont=dict(family=FONT, size=9.5, color="#222222"))
    layout["xaxis" + s] = dict(axis_common, domain=[fx(l), fx(r)], range=p["xr"], anchor="y" + s,
                               tickvals=p["ticks"],
                               title=dict(text="Time in milliseconds (ms)", standoff=4,
                                          font=dict(family=FONT, size=11.5, color="#222222")))
    layout["yaxis" + s] = dict(axis_common, domain=[fy(b), fy(t)], range=[-0.05, 1.05], anchor="x" + s,
                               tickvals=Y_TICKS, tickformat=".1f",
                               title=dict(text="Cumulative probability (ecdf)", standoff=6,
                                          font=dict(family=FONT, size=11, color="#222222")))

    # leyenda estilo matplotlib, dibujada a mano
    lr, lb = r - 3, b - 5
    ll, lt = lr - 99, lb - 27
    shapes.append(dict(type="rect", xref="paper", yref="paper", x0=fx(ll), x1=fx(lr),
                       y0=fy(lb), y1=fy(lt), line=dict(color="#d0d0d0", width=1),
                       fillcolor="rgba(255,255,255,0.85)", layer="above"))
    for j, (lab, col) in enumerate(zip(LEGEND_LABELS, [BLUE, ORANGE])):
        yy = lt + 8 + j * 11.5
        shapes.append(dict(type="line", xref="paper", yref="paper", x0=fx(ll + 3), x1=fx(ll + 21),
                           y0=fy(yy), y1=fy(yy), line=dict(color=col, width=1.4), layer="above"))
        annotations.append(dict(text=lab, x=fx(ll + 26), y=fy(yy), xref="paper", yref="paper",
                                xanchor="left", yanchor="middle", showarrow=False,
                                font=dict(family=FONT, size=7.5, color="#222222")))

    cap_text = "<br>".join(justify(ln, pad) for ln, pad in zip(CAPTIONS[k - 1], CAPTION_PAD[k - 1]))
    annotations.append(dict(text=cap_text, x=fx(p["cap"][0]), y=fy(p["cap"][1]),
                            xref="paper", yref="paper", xanchor="left", yanchor="top",
                            align="left", showarrow=False,
                            font=dict(family="Liberation Serif", size=18, color="#000000")))

fig.update_layout(**layout)
fig.update_layout(width=W, height=H, margin=dict(l=0, r=0, t=0, b=0), showlegend=False,
                  paper_bgcolor="white", plot_bgcolor="white",
                  annotations=annotations, shapes=shapes)

fig.write_html("out.html")
